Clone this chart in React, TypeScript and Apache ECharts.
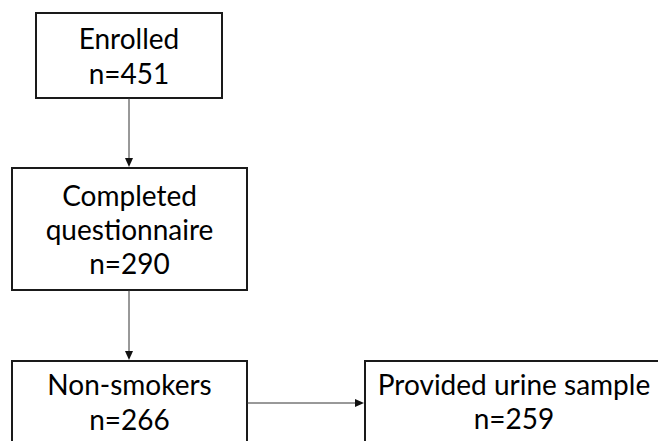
import React, { useEffect, useRef } from "react";
import * as echarts from "echarts";

// Data
const stageLabels: string[][] = [
  ["Enrolled"],
  ["Completed", "questionnaire"],
  ["Non-smokers"],
  ["Provided urine sample"],
];
const stageCounts: number[] = [451, 290, 266, 259];

// Layout (pixels)
const boxes = [
  { x: 36, y: 13, w: 186, h: 85, lineMid: [38, 73] },
  { x: 12, y: 168, w: 235, h: 122, lineMid: [195, 229, 263] },
  { x: 12, y: 361, w: 235, h: 100, lineMid: [384, 419] },
  { x: 365, y: 361, w: 298, h: 100, lineMid: [384, 418] },
];
const links = [
  { from: [129, 98], to: [129, 167] },
  { from: [129, 290], to: [129, 360] },
  { from: [247, 403], to: [364, 403] },
];

const FONT = "Lato, 'Liberation Sans', sans-serif";

export default function App() {
  const ref = useRef<HTMLDivElement>(null);
  useEffect(() => {
    if (!ref.current) return;
    const chart = echarts.init(ref.current, null, { renderer: "svg" });
    const elements: any[] = [];
    boxes.forEach((b, i) => {
      elements.push({
        type: "rect",
        shape: { x: b.x, y: b.y, width: b.w, height: b.h },
        style: { fill: "#ffffff", stroke: "#1a1a1a", lineWidth: 2 },
      });
      const lines = [...stageLabels[i], `n=${stageCounts[i]}`];
      lines.forEach((t, j) => {
        elements.push({
          type: "text",
          style: {
            x: b.x + b.w / 2,
            y: b.lineMid[j],
            text: t,
            fill: "#000000",
            font: `28px ${FONT}`,
            align: "center",
            verticalAlign: "middle",
          },
        });
      });
    });
    links.forEach((l) => {
      const [x1, y1] = l.from;
      const [x2, y2] = l.to;
      const horiz = y1 === y2;
      const hl = 9;
      const hw = 4;
      const bx = horiz ? x2 - hl : x2;
      const by = horiz ? y2 : y2 - hl;
      elements.push({
        type: "line",
        shape: { x1, y1, x2: bx, y2: by },
        style: { stroke: "#333333", lineWidth: 1 },
      });
      elements.push({
        type: "polygon",
        shape: {
          points: horiz
            ? [[x2, y2], [bx, y2 - hw], [bx, y2 + hw]]
            : [[x2, y2], [x2 - hw, by], [x2 + hw, by]],
        },
        style: { fill: "#111111" },
      });
    });
    chart.setOption({
      animation: false,
      backgroundColor: "#ffffff",
      graphic: { elements },
    });
    return () => chart.dispose();
  }, []);
  return (
    <div
      ref={ref}
      style={{ position: "fixed", left: 0, top: 0, width: 658, height: 441 }}
    />
  );
}
